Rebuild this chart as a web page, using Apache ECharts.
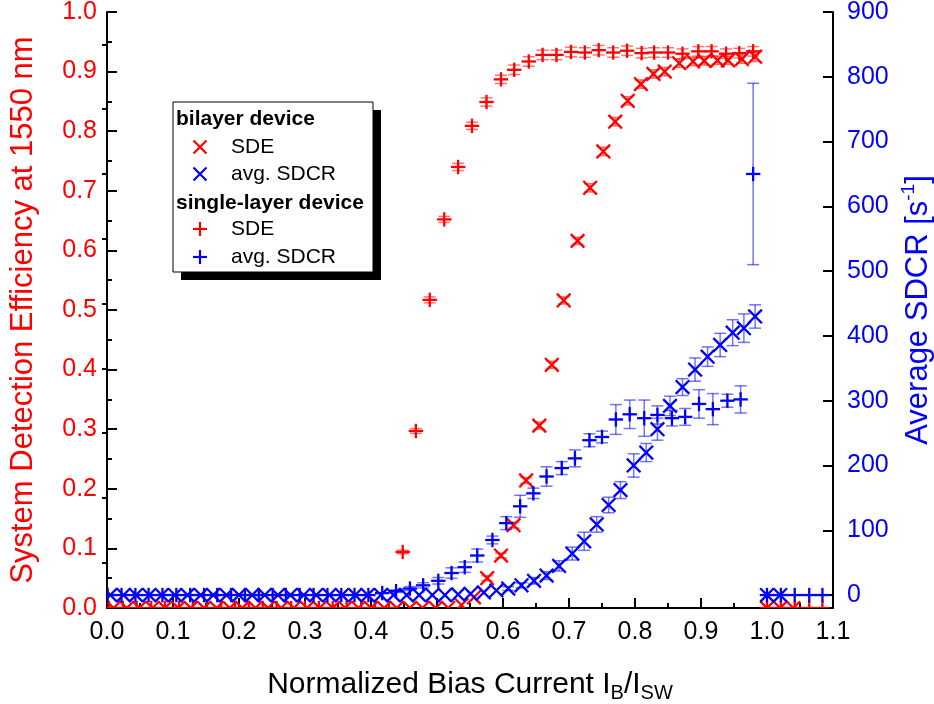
<!DOCTYPE html>
<html><head><meta charset="utf-8">
<script src="https://cdn.jsdelivr.net/npm/echarts@6/dist/echarts.min.js"></script>
<style>html,body{margin:0;padding:0;background:#fff}#c{width:934px;height:704px}</style>
</head><body><div id="c"></div>
<script>
// ---------- data ----------
// bilayer device, SDE (left axis)
const bilayerSdeX = [0.010,0.030,0.049,0.069,0.088,0.108,0.127,0.147,0.166,0.186,0.205,0.225,0.244,0.264,0.283,0.303,0.322,0.342,0.361,0.381,0.400,0.420,0.439,0.459,0.478,0.498,0.517,0.537,0.556,
  0.576,0.597,0.616,0.635,0.655,0.674,0.692,0.713,0.732,0.752,0.770,0.789,0.809,0.828,0.845,0.867,0.888,0.905,0.925,0.941,0.962,0.982,
  1.000,1.020,1.040];
const bilayerSdeY = [0,0,0,0,0,0,0,0,0,0,0,0,0,0,0,0,0,0,0,0,0,0,0,0,0,0,0,0.005,0.018,
  0.050,0.088,0.139,0.214,0.306,0.408,0.516,0.616,0.705,0.766,0.816,0.851,0.879,0.896,0.900,0.914,0.917,0.918,0.919,0.919,0.921,0.925,
  0,0,0];
const bilayerSdeErr = [0,0,0,0,0,0,0,0,0,0,0,0,0,0,0,0,0,0,0,0,0,0,0,0,0,0,0,0,0,
  0.004,0.004,0.005,0.005,0.006,0.006,0.006,0.006,0.007,0.007,0.007,0.007,0.007,0.007,0.007,0.007,0.007,0.007,0.007,0.007,0.007,0.008,
  0,0,0];
// bilayer device, avg. SDCR (right axis)
const bilayerSdcrX = [0.005,0.025,0.044,0.064,0.083,0.103,0.122,0.142,0.161,0.181,0.200,0.220,0.239,0.259,0.278,0.298,0.317,0.337,0.356,0.376,0.395,0.415,0.434,0.454,0.473,0.493,0.512,0.532,0.551,0.571,0.590,
  0.608,0.628,0.647,0.666,0.685,0.705,0.723,0.742,0.760,0.778,0.798,0.817,0.834,0.853,0.872,0.891,0.910,0.929,0.948,0.965,0.982,
  1.000,1.020];
const bilayerSdcrY = [0,0,0,0,0,0,0,0,0,0,0,0,0,0,0,0,0,0,0,0,0,0,0,0,0,0,0,1,2,4,7,
  10,15,22,30,45,64,83,109,139,162,200,220,256,292,321,348,368,386,405,412,430,
  0,0];
const bilayerSdcrErr = [0,0,0,0,0,0,0,0,0,0,0,0,0,0,0,0,0,0,0,0,0,0,0,0,0,0,0,0,0,0,0,
  3,4,5,6,8,10,14,12,12,13,18,14,17,15,13,18,15,18,20,22,18,
  0,0];
// single-layer device, SDE (left axis)
const singleSdeX = [0.003,0.024,0.045,0.067,0.088,0.109,0.130,0.151,0.173,0.194,0.215,0.236,0.257,0.279,0.300,0.321,0.342,0.363,0.385,0.406,0.427,
  0.448,0.468,0.489,0.511,0.532,0.553,0.575,0.597,0.617,0.639,0.660,0.681,0.703,0.724,0.745,0.767,0.788,0.810,0.829,0.850,0.872,0.896,0.916,0.938,0.958,0.979,
  1.000,1.021,1.042,1.064,1.084];
const singleSdeY = [0,0,0,0,0,0,0,0,0,0,0,0,0,0,0,0,0,0,0,0,0,
  0.094,0.297,0.517,0.652,0.740,0.809,0.849,0.887,0.903,0.917,0.928,0.928,0.933,0.932,0.936,0.932,0.935,0.931,0.932,0.932,0.930,0.934,0.934,0.930,0.931,0.934,
  0,0,0,0,0];
const singleSdeErr = [0,0,0,0,0,0,0,0,0,0,0,0,0,0,0,0,0,0,0,0,0,
  0.003,0.004,0.005,0.005,0.006,0.006,0.007,0.007,0.008,0.008,0.008,0.008,0.008,0.008,0.008,0.008,0.008,0.008,0.008,0.008,0.008,0.008,0.008,0.008,0.008,0.008,
  0,0,0,0,0];
// single-layer device, avg. SDCR (right axis)
const singleSdcrX = [0.001,0.022,0.043,0.063,0.084,0.105,0.126,0.147,0.167,0.188,0.209,0.230,0.251,0.271,0.292,0.313,0.334,0.355,0.375,0.396,0.417,0.438,
  0.459,0.479,0.502,0.522,0.542,0.561,0.584,0.605,0.626,0.646,0.666,0.689,0.709,0.731,0.750,0.771,0.792,0.814,0.834,0.856,0.876,0.897,0.918,0.940,0.960,0.979,
  1.000,1.021,1.042,1.064,1.084];
const singleSdcrY = [0,0,0,0,0,0,0,0,0,0,0,0,0,0,0,0,0,0,0,0,3,6,
  10,15,22,34,43,61,85,111,137,157,183,196,211,239,244,271,279,273,278,273,275,295,287,300,302,650,
  0,0,0,0,0];
const singleSdcrErr = [0,0,0,0,0,0,0,0,0,0,0,0,0,0,0,0,0,0,0,0,0,2,
  3,4,5,8,8,10,6,10,17,8,15,10,13,10,9,23,22,28,14,12,13,22,24,10,21,140,
  0,0,0,0,0];
// right-axis tick values
const rightMajorTicks = [0,100,200,300,400,500,600,700,800,900];
const rightMinorTicks = [50,150,250,350,450,550,650,750,850];

// ---------- chart ----------
const FONT = '"Liberation Sans", Arial, sans-serif';
const RED = '#ff0000', BLUE = '#0000ff';

function makeSeries(name, xs, ys, errs, yAxisIndex, color, barColor, shape) {
  const data = xs.map((x, i) => [x, ys[i], errs[i]]);
  return {
    type: 'custom', name, xAxisIndex: 0, yAxisIndex, clip: true, data,
    encode: { x: 0, y: 1 },
    renderItem(params, api) {
      const x = api.value(0), y = api.value(1), e = api.value(2);
      const p = api.coord([x, y]);
      const ch = [];
      const cap = 6;
      if (e > 0) {
        const t = api.coord([x, y + e]), b = api.coord([x, y - e]);
        const st = { stroke: barColor, lineWidth: 1.5 };
        ch.push({ type: 'line', shape: { x1: p[0], y1: t[1], x2: p[0], y2: b[1] }, style: st });
        ch.push({ type: 'line', shape: { x1: p[0] - cap, y1: t[1], x2: p[0] + cap, y2: t[1] }, style: st });
        ch.push({ type: 'line', shape: { x1: p[0] - cap, y1: b[1], x2: p[0] + cap, y2: b[1] }, style: st });
      }
      const ms = { stroke: color, lineWidth: 2.3 };
      if (shape === 'x') {
        const s = 6.8;
        ch.push({ type: 'line', shape: { x1: p[0] - s, y1: p[1] - s, x2: p[0] + s, y2: p[1] + s }, style: ms });
        ch.push({ type: 'line', shape: { x1: p[0] - s, y1: p[1] + s, x2: p[0] + s, y2: p[1] - s }, style: ms });
      } else {
        const s = 7.2;
        ch.push({ type: 'line', shape: { x1: p[0] - s, y1: p[1], x2: p[0] + s, y2: p[1] }, style: ms });
        ch.push({ type: 'line', shape: { x1: p[0], y1: p[1] - s, x2: p[0], y2: p[1] + s }, style: ms });
      }
      return { type: 'group', children: ch };
    }
  };
}

function legendSymbol(cx, cy, color, shape) {
  const s = shape === 'x' ? 6.5 : 7;
  const st = { stroke: color, lineWidth: 2.2 };
  const lines = shape === 'x'
    ? [[cx - s, cy - s, cx + s, cy + s], [cx - s, cy + s, cx + s, cy - s]]
    : [[cx - s, cy, cx + s, cy], [cx, cy - s, cx, cy + s]];
  return lines.map(l => ({ type: 'line', z: 102, shape: { x1: l[0], y1: l[1], x2: l[2], y2: l[3] }, style: st }));
}
function legendText(x, y, text, bold) {
  return { type: 'text', z: 102, x, y, style: { text, fontSize: 21, fontWeight: bold ? 'bold' : 'normal', fontFamily: FONT, fill: '#000', verticalAlign: 'middle', align: 'left' } };
}

const axisCommon = {
  axisLine: { show: true, onZero: false, lineStyle: { color: '#000', width: 2 } },
  axisTick: { show: true, inside: true, length: 10, lineStyle: { color: '#000', width: 2 } },
  minorTick: { show: true, splitNumber: 2, length: 5, lineStyle: { color: '#000', width: 2 } },
  splitLine: { show: false }
};

const chart = echarts.init(document.getElementById('c'), null, { renderer: 'canvas' });
chart.setOption({
  animation: false,
  backgroundColor: '#fff',
  grid: { left: 107, right: 101, top: 12, bottom: 96, containLabel: false, outerBoundsMode: 'none' },
  xAxis: [Object.assign({}, axisCommon, {
    type: 'value', min: 0, max: 1.1, interval: 0.1, position: 'bottom',
    axisLabel: { formatter: v => v.toFixed(1), color: '#000', fontSize: 25, fontFamily: FONT, margin: 12 },
    name: 'Normalized Bias Current I{s|B}/I{s|SW}', nameLocation: 'middle', nameGap: 58,
    nameTextStyle: { color: '#000', fontSize: 30, fontFamily: FONT, rich: { s: { fontSize: 20, fontFamily: FONT, color: '#000', padding: [17, 0, 0, 0] } } }
  })],
  yAxis: [
    Object.assign({}, axisCommon, {
      type: 'value', min: 0, max: 1, interval: 0.1, position: 'left',
      axisLabel: { formatter: v => v.toFixed(1), color: RED, fontSize: 25, fontFamily: FONT, margin: 10 },
      name: 'System Detection Efficiency at 1550 nm', nameLocation: 'middle', nameGap: 68, nameRotate: 90,
      nameTextStyle: { color: RED, fontSize: 31, fontFamily: FONT }
    }),
    {
      type: 'value', min: -20, max: 900, position: 'right',
      axisLine: { show: true, onZero: false, lineStyle: { color: '#000', width: 2 } },
      axisTick: { show: true, inside: true, length: 10, customValues: rightMajorTicks, lineStyle: { color: '#000', width: 2 } },
      minorTick: { show: false },
      splitLine: { show: false },
      axisLabel: { customValues: rightMajorTicks, color: BLUE, fontSize: 25, fontFamily: FONT, margin: 14 },
      name: 'Average SDCR [s{u|-1}]', nameLocation: 'middle', nameGap: 62, nameRotate: 90,
      nameTextStyle: { color: BLUE, fontSize: 31, fontFamily: FONT, rich: { u: { fontSize: 19, fontFamily: FONT, color: BLUE, padding: [0, 0, 19, 0] } } }
    },
    {
      type: 'value', min: -20, max: 900, position: 'right',
      axisLine: { show: false },
      axisTick: { show: true, inside: true, length: 5, customValues: rightMinorTicks, lineStyle: { color: '#000', width: 2 } },
      minorTick: { show: false },
      splitLine: { show: false },
      axisLabel: { show: false }
    }
  ],
  series: [
    makeSeries('single-layer SDE', singleSdeX, singleSdeY, singleSdeErr, 0, RED, 'rgba(255,0,0,0.55)', '+'),
    makeSeries('bilayer SDE', bilayerSdeX, bilayerSdeY, bilayerSdeErr, 0, RED, 'rgba(255,0,0,0.55)', 'x'),
    makeSeries('single-layer avg. SDCR', singleSdcrX, singleSdcrY, singleSdcrErr, 1, BLUE, 'rgba(0,0,255,0.55)', '+'),
    makeSeries('bilayer avg. SDCR', bilayerSdcrX, bilayerSdcrY, bilayerSdcrErr, 1, BLUE, 'rgba(0,0,255,0.55)', 'x')
  ],
  graphic: [
    { type: 'rect', z: 100, shape: { x: 181, y: 110, width: 200, height: 170 }, style: { fill: '#000' } },
    { type: 'rect', z: 101, shape: { x: 173, y: 102, width: 200, height: 170 }, style: { fill: '#fff', stroke: '#000', lineWidth: 1 } },
    legendText(176, 119, 'bilayer device', true),
    ...legendSymbol(200, 147, RED, 'x'),
    legendText(231, 147, 'SDE', false),
    ...legendSymbol(200, 174, BLUE, 'x'),
    legendText(231, 174, 'avg. SDCR', false),
    legendText(176, 203, 'single-layer device', true),
    ...legendSymbol(200, 229, RED, '+'),
    legendText(231, 229, 'SDE', false),
    ...legendSymbol(200, 257, BLUE, '+'),
    legendText(231, 257, 'avg. SDCR', false)
  ]
});
</script>
</body></html>
